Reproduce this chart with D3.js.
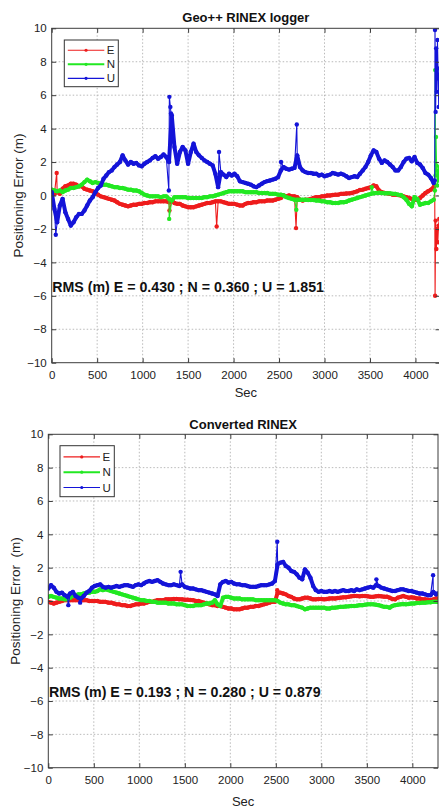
<!DOCTYPE html>
<html>
<head>
<meta charset="utf-8">
<script src="https://cdn.jsdelivr.net/npm/d3@7"></script>
<style>
  body { margin: 0; background: #fff; }
  svg { display: block; font-family: "Liberation Sans", Arial, sans-serif; }
</style>
</head>
<body>
<svg id="chart" width="439" height="807"></svg>
<script>
// ENU positioning error (m), one sample every STEP seconds starting at 0 s
const STEP = 30;

// --- Geo++ RINEX logger (0 .. 4200 s) ---
const geoE = [
  0.3,0.1,0.2,0.1,0.4,0.55,0.6,0.7,0.7,0.65,
  0.55,0.55,0.4,0.35,0.3,0.25,0.15,0.05,-0.05,-0.1,
  -0.15,-0.2,-0.25,-0.3,-0.4,-0.5,-0.55,-0.6,-0.65,-0.6,
  -0.55,-0.55,-0.5,-0.5,-0.45,-0.45,-0.4,-0.4,-0.35,-0.35,
  -0.35,-0.35,-0.35,-0.4,-0.3,-0.45,-0.5,-0.5,-0.6,-0.65,
  -0.7,-0.7,-0.7,-0.65,-0.6,-0.55,-0.5,-0.45,-0.45,-0.4,
  -0.35,-0.35,-0.35,-0.4,-0.45,-0.5,-0.5,-0.5,-0.55,-0.6,
  -0.6,-0.5,-0.45,-0.45,-0.4,-0.4,-0.35,-0.35,-0.35,-0.3,
  -0.3,-0.3,-0.25,-0.2,-0.15,0.0,-0.05,0.0,-0.05,-0.05,
  -0.1,-0.25,-0.3,-0.25,-0.25,-0.2,-0.15,-0.1,-0.1,-0.05,
  -0.05,0.0,0.0,0.03,0.05,0.05,0.1,0.1,0.12,0.13,
  0.15,0.2,0.25,0.33,0.35,0.4,0.45,0.5,0.6,0.55,
  0.3,0.2,0.15,0.13,0.1,0.05,0.05,0.03,0.0,-0.05,
  -0.1,-0.15,-0.2,-0.25,-0.25,-0.15,0.0,0.15,0.25,0.35,
  0.5
];
const geoN = [
  0.35,0.3,0.25,0.3,0.2,0.3,0.35,0.45,0.45,0.5,
  0.55,0.65,0.8,0.95,0.85,0.75,0.8,0.75,0.7,0.65,
  0.65,0.6,0.55,0.5,0.5,0.45,0.45,0.4,0.35,0.35,
  0.3,0.3,0.25,0.15,0.05,0.0,-0.05,-0.05,-0.05,-0.05,
  -0.1,-0.05,-0.05,-0.2,-0.3,-0.1,-0.1,-0.1,-0.1,-0.1,
  -0.15,-0.15,-0.15,-0.15,-0.15,-0.15,-0.1,-0.1,-0.05,-0.05,
  0.0,0.05,0.1,0.15,0.2,0.25,0.25,0.25,0.25,0.25,
  0.25,0.2,0.2,0.2,0.2,0.2,0.15,0.15,0.15,0.15,
  0.1,0.1,0.1,0.05,0.05,0.0,-0.1,-0.15,-0.2,-0.25,
  -0.25,-0.25,-0.25,-0.25,-0.27,-0.27,-0.27,-0.3,-0.3,-0.35,
  -0.35,-0.4,-0.4,-0.45,-0.45,-0.45,-0.4,-0.4,-0.37,-0.3,
  -0.25,-0.2,-0.15,-0.1,-0.05,0.0,0.05,0.1,0.13,0.15,
  0.17,0.15,0.13,0.13,0.13,0.1,0.1,0.05,0.03,-0.1,
  -0.25,-0.5,-0.65,-0.1,-0.2,-0.55,-0.5,-0.45,-0.45,-0.35,
  -0.25
];
const geoU = [
  0.2,-0.8,-1.6,-0.6,-0.2,-1.0,-1.4,-1.8,-1.6,-1.3,
  -1.1,-1.1,-0.9,-0.6,-0.3,-0.1,0.2,0.45,0.6,1.0,
  1.2,1.4,1.5,1.7,1.85,2.0,2.4,2.1,1.85,2.0,
  1.9,1.95,1.8,1.75,1.9,2.0,2.1,2.25,2.35,2.2,
  2.3,2.45,2.3,2.0,4.8,2.9,1.9,2.6,2.9,2.7,
  1.9,2.6,3.1,2.6,2.4,2.25,2.1,2.0,1.9,1.8,
  1.3,0.5,1.4,1.25,1.1,1.3,1.2,1.3,1.15,0.85,
  0.8,0.75,0.7,0.65,0.55,0.5,0.6,0.7,0.8,0.86,
  0.9,0.95,1.0,1.1,1.5,1.7,1.6,1.55,1.6,1.65,
  2.4,1.7,1.5,1.4,1.35,1.35,1.3,1.3,1.2,1.25,
  1.15,1.2,1.25,1.35,1.3,1.25,1.3,1.25,1.15,1.05,
  1.1,1.15,1.1,1.3,1.5,1.7,2.0,2.4,2.7,2.6,
  2.2,1.95,2.1,2.0,1.85,1.7,1.5,1.5,1.7,2.0,
  2.2,2.25,2.05,2.3,1.95,1.85,1.65,1.35,1.25,1.05,
  0.75
];
// isolated samples off the regular grid: [seconds, metres]
const geoExtraE = [[55,1.35],[1295,-0.9],[1814,-1.85],[2687,-1.95],[4212,0.6],[4216,-6.0],
  [4222,-1.5],[4230,-3.2],[4238,-2.0],[4246,-2.8],[4254,-1.8],[4262,-1.4]];
const geoExtraN = [[1292,-1.4],[2690,-0.85],[3520,0.5],[4214,0.3],[4217,7.5],[4221,1.2],
  [4226,3.5],[4232,1.8],[4240,0.6],[4248,1.5],[4256,0.9],[4262,1.7]];
const geoExtraU = [[45,-2.35],[1288,0.3],[1294,5.9],[1305,5.3],[1312,4.9],[1840,2.6],[2522,2.0],
  [2695,4.25],[4212,0.9],[4215,9.9],[4222,5.0],[4228,8.8],[4235,6.2],[4242,9.3],[4250,7.0],
  [4256,5.3],[4262,7.6]];

// --- Converted RINEX (0 .. 4260 s) ---
const convE = [
  -0.05,-0.1,-0.15,-0.1,-0.05,0.0,0.05,0.05,0.05,0.05,
  0.05,0.05,0.05,0.05,0.05,0.0,0.0,0.0,0.0,-0.05,
  -0.05,-0.05,-0.1,-0.1,-0.15,-0.2,-0.2,-0.25,-0.25,-0.3,
  -0.3,-0.25,-0.2,-0.2,-0.15,-0.15,-0.1,-0.05,-0.05,0.0,
  0.05,0.05,0.05,0.1,0.1,0.1,0.12,0.12,0.1,0.1,
  0.08,0.08,0.06,0.05,0.0,0.0,-0.05,-0.1,-0.15,-0.2,
  -0.25,-0.25,-0.3,-0.3,-0.35,-0.4,-0.45,-0.45,-0.5,-0.5,
  -0.5,-0.45,-0.4,-0.4,-0.35,-0.35,-0.3,-0.3,-0.25,-0.2,
  -0.15,-0.1,-0.05,-0.05,0.5,0.5,0.45,0.4,0.3,0.25,
  0.15,0.1,0.1,0.15,0.2,0.2,0.15,0.1,0.1,0.12,
  0.12,0.1,0.12,0.15,0.16,0.15,0.18,0.2,0.22,0.22,
  0.25,0.28,0.3,0.3,0.28,0.3,0.3,0.28,0.25,0.25,
  0.28,0.3,0.28,0.26,0.26,0.2,0.12,0.1,0.2,0.25,
  0.3,0.25,0.2,0.22,0.2,0.15,0.15,0.1,0.1,0.08,
  0.06,0.1,0.15
];
const convN = [
  0.25,0.3,0.25,0.2,0.15,0.15,0.1,0.1,0.2,0.3,
  0.35,0.4,0.4,0.45,0.5,0.5,0.55,0.55,0.6,0.7,
  0.65,0.7,0.65,0.6,0.55,0.5,0.45,0.4,0.35,0.3,
  0.25,0.2,0.15,0.1,0.05,0.05,0.0,0.0,-0.05,-0.05,
  -0.1,-0.1,-0.1,-0.1,-0.15,-0.15,-0.15,-0.2,-0.2,-0.2,
  -0.25,-0.3,-0.3,-0.3,-0.25,-0.25,-0.25,-0.2,-0.15,-0.15,
  -0.1,0.05,-0.2,-0.3,0.2,0.25,0.25,0.2,0.15,0.15,
  0.15,0.1,0.1,0.1,0.1,0.1,0.05,0.05,0.05,0.05,
  0.05,0.05,0.05,0.05,0.0,-0.1,-0.15,-0.2,-0.2,-0.25,
  -0.25,-0.3,-0.35,-0.4,-0.5,-0.45,-0.4,-0.4,-0.4,-0.4,
  -0.4,-0.4,-0.45,-0.45,-0.4,-0.4,-0.38,-0.35,-0.35,-0.33,
  -0.32,-0.3,-0.3,-0.28,-0.25,-0.25,-0.22,-0.2,-0.2,-0.2,
  -0.22,-0.25,-0.3,-0.35,-0.35,-0.4,-0.3,-0.25,-0.22,-0.2,
  -0.18,-0.2,-0.18,-0.15,-0.15,-0.12,-0.12,-0.1,-0.1,-0.08,
  -0.08,-0.05,-0.05
];
const convU = [
  0.75,0.95,0.8,0.55,0.45,0.5,0.35,0.25,0.45,0.55,
  0.3,0.2,0.15,0.3,0.5,0.6,0.8,0.9,0.95,1.0,
  0.85,0.8,0.85,0.8,0.85,0.9,0.85,0.9,0.95,0.95,
  0.9,0.85,0.95,1.0,0.95,1.05,1.15,1.2,1.15,1.2,
  1.25,1.15,1.05,1.0,0.95,0.95,1.0,0.95,0.9,1.0,
  0.85,0.8,0.75,0.75,0.7,0.65,0.65,0.6,0.55,0.5,
  0.45,0.4,0.3,1.0,1.15,1.2,1.1,1.15,1.05,1.0,
  1.0,0.95,0.95,0.9,0.85,0.85,0.85,0.9,0.95,0.95,
  0.95,1.0,1.05,1.2,2.2,2.3,2.35,2.1,2.0,1.8,
  1.75,1.6,1.4,1.3,1.9,1.7,1.4,0.9,0.65,0.55,
  0.6,0.55,0.55,0.6,0.55,0.6,0.55,0.6,0.65,0.6,
  0.6,0.65,0.6,0.7,0.65,0.7,0.75,0.8,0.85,0.8,
  0.95,0.9,0.8,0.75,0.7,0.65,0.6,0.6,0.65,0.7,
  0.7,0.65,0.6,0.6,0.55,0.5,0.45,0.45,0.4,0.35,
  0.35,0.55,0.4
];
const convExtraE = [[2516,0.65],[4275,0.15]];
const convExtraN = [[4275,-0.05]];
const convExtraU = [[220,-0.25],[350,-0.1],[1454,1.75],[2516,3.55],[3605,1.3],[4228,1.55],[4275,0.45]];

const seriesNames = ["E", "N", "U"];
const xTicks = [0, 500, 1000, 1500, 2000, 2500, 3000, 3500, 4000];
const yTicks = [10, 8, 6, 4, 2, 0, -2, -4, -6, -8, -10];

const colors = { E: "#ee1c1c", N: "#22e822", U: "#1414d8" };

const panels = [
  {
    title: "Geo++ RINEX logger",
    ylabel: "Positioning Error (m)",
    rms: "RMS (m) E = 0.430 ; N = 0.360 ; U = 1.851",
    values: { E: geoE, N: geoN, U: geoU },
    extras: { E: geoExtraE, N: geoExtraN, U: geoExtraU },
    xMax: 4270,
    left: 51.7, right: 440, top: 28.3, bottom: 362.7,
    titleY: 22, ylabelX: 22.5, xlabelY: 397, rmsY: 291.5,
    legend: { x: 64.3, y: 40, w: 54, h: 46.7 }
  },
  {
    title: "Converted RINEX",
    ylabel: "Positioning Error  (m)",
    rms: "RMS (m) E = 0.193 ; N = 0.280 ; U = 0.879",
    values: { E: convE, N: convN, U: convU },
    extras: { E: convExtraE, N: convExtraN, U: convExtraU },
    xMax: 4282,
    left: 48.3, right: 438, top: 434.3, bottom: 767.7,
    titleY: 428.5, ylabelX: 19.5, xlabelY: 805.5, rmsY: 696.5,
    legend: { x: 60, y: 445.7, w: 54.3, h: 51 }
  }
];

const svg = d3.select("#chart");
const axisColor = "#3c3c3c";
const textColor = "#222";

panels.forEach((p, pi) => {
  const g = svg.append("g");
  const x = d3.scaleLinear().domain([0, p.xMax]).range([p.left, p.right]);
  const y = d3.scaleLinear().domain([-10, 10]).range([p.bottom, p.top]);

  // plot background
  g.append("rect")
    .attr("x", p.left).attr("y", p.top)
    .attr("width", p.right - p.left).attr("height", p.bottom - p.top)
    .attr("fill", "#fff");

  // dotted grid
  const grid = g.append("g").attr("stroke", "#a8a8a8").attr("stroke-width", 0.8)
    .attr("stroke-dasharray", "1.5,2");
  grid.selectAll("line.vx").data(xTicks.filter(t => t > 0)).join("line")
    .attr("x1", d => x(d)).attr("x2", d => x(d))
    .attr("y1", p.top).attr("y2", p.bottom);
  grid.selectAll("line.hy").data(yTicks.filter(v => v > -10 && v < 10)).join("line")
    .attr("x1", p.left).attr("x2", p.right)
    .attr("y1", d => y(d)).attr("y2", d => y(d));

  // clip for data
  const clipId = "clip" + pi;
  g.append("clipPath").attr("id", clipId).append("rect")
    .attr("x", p.left).attr("y", p.top)
    .attr("width", p.right - p.left).attr("height", p.bottom - p.top);

  const plot = g.append("g").attr("clip-path", `url(#${clipId})`);
  const line = d3.line().x(d => x(d[0])).y(d => y(d[1]));

  seriesNames.forEach(name => {
    const grid30 = p.values[name].map((v, i) => [i * STEP, v]);
    const pts = grid30.concat(p.extras[name]).sort((a, b) => a[0] - b[0]);
    const s = plot.append("g");
    // dense noisy trace: broad band along the regular samples
    s.append("path")
      .attr("d", line(grid30))
      .attr("fill", "none")
      .attr("stroke", colors[name])
      .attr("stroke-width", 4)
      .attr("stroke-linejoin", "round")
      .attr("stroke-linecap", "round");
    // connecting line through every sample, including isolated jumps
    s.append("path")
      .attr("d", line(pts))
      .attr("fill", "none")
      .attr("stroke", colors[name])
      .attr("stroke-width", 1.1)
      .attr("stroke-linejoin", "round");
    s.selectAll("circle").data(pts).join("circle")
      .attr("cx", d => x(d[0])).attr("cy", d => y(d[1]))
      .attr("r", 2.2)
      .attr("fill", colors[name]);
  });

  // axes with inward ticks on all four sides
  const styleAxis = sel => {
    sel.selectAll(".domain").remove();
    sel.selectAll(".tick line").attr("stroke", axisColor);
    sel.selectAll(".tick text").attr("fill", textColor)
      .attr("font-size", 11.5).attr("font-family", "Liberation Sans, Arial, sans-serif");
  };
  g.append("g").attr("transform", `translate(0,${p.bottom})`)
    .call(d3.axisBottom(x).tickValues(xTicks).tickSize(-4.5).tickPadding(8).tickFormat(d3.format("d")))
    .call(styleAxis);
  g.append("g").attr("transform", `translate(0,${p.top})`)
    .call(d3.axisTop(x).tickValues(xTicks).tickSize(-4.5).tickFormat(""))
    .call(styleAxis);
  g.append("g").attr("transform", `translate(${p.left},0)`)
    .call(d3.axisLeft(y).tickValues(yTicks).tickSize(-4.5).tickPadding(5).tickFormat(d3.format("d")))
    .call(styleAxis);
  g.append("g").attr("transform", `translate(${p.right},0)`)
    .call(d3.axisRight(y).tickValues(yTicks).tickSize(-4.5).tickFormat(""))
    .call(styleAxis);

  // axes box
  g.append("rect")
    .attr("x", p.left).attr("y", p.top)
    .attr("width", p.right - p.left).attr("height", p.bottom - p.top)
    .attr("fill", "none").attr("stroke", axisColor).attr("stroke-width", 1);

  // title and axis labels
  g.append("text")
    .attr("x", (p.left + p.right) / 2).attr("y", p.titleY)
    .attr("text-anchor", "middle").attr("font-weight", "bold")
    .attr("font-size", 13).attr("fill", "#111")
    .text(p.title);
  g.append("text")
    .attr("x", (p.left + p.right) / 2).attr("y", p.xlabelY)
    .attr("text-anchor", "middle").attr("font-size", 13).attr("fill", textColor)
    .text("Sec");
  g.append("text")
    .attr("transform", `translate(${p.ylabelX},${(p.top + p.bottom) / 2}) rotate(-90)`)
    .attr("text-anchor", "middle").attr("font-size", 13.5).attr("fill", textColor)
    .style("white-space", "pre")
    .text(p.ylabel);

  // RMS summary
  g.append("text")
    .attr("x", p.left + 0.6).attr("y", p.rmsY)
    .attr("font-weight", "bold").attr("font-size", 14.2).attr("fill", "#111")
    .text(p.rms);

  // legend
  const L = p.legend;
  const lg = g.append("g");
  lg.append("rect").attr("x", L.x).attr("y", L.y).attr("width", L.w).attr("height", L.h)
    .attr("fill", "#fff").attr("stroke", "#333").attr("stroke-width", 1);
  seriesNames.forEach((name, i) => {
    const cy = L.y + L.h * (0.22 + 0.3 * i);
    const x1 = L.x + 3.5, x2 = L.x + 40;
    lg.append("line").attr("x1", x1).attr("x2", x2).attr("y1", cy).attr("y2", cy)
      .attr("stroke", colors[name]).attr("stroke-width", name === "N" ? 2 : 1.2);
    lg.append("circle").attr("cx", (x1 + x2) / 2).attr("cy", cy).attr("r", 1.6)
      .attr("fill", colors[name]);
    lg.append("text").attr("x", x2 + 2.5).attr("y", cy + 4)
      .attr("font-size", 11.5).attr("fill", textColor).text(name);
  });
});
</script>
</body>
</html>
